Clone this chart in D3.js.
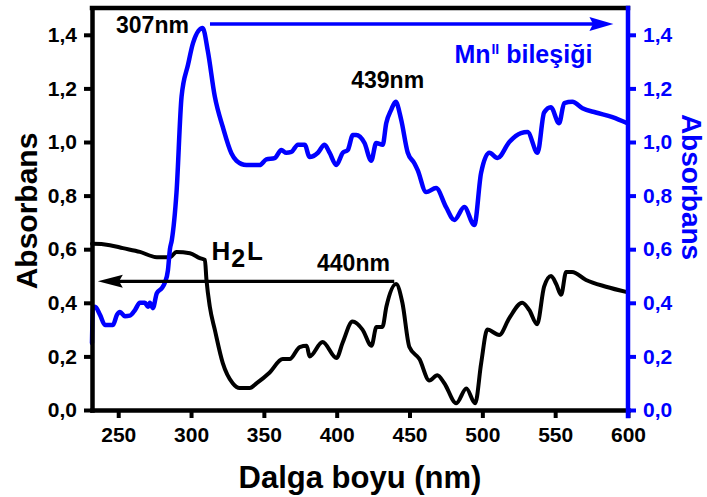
<!DOCTYPE html>
<html>
<head>
<meta charset="utf-8">
<script src="https://cdn.jsdelivr.net/npm/d3@7"></script>
<style>
  html, body { margin: 0; padding: 0; background: #fff; }
  svg { display: block; font-family: "Liberation Sans", Arial, sans-serif; font-weight: bold; }
</style>
</head>
<body>
<div id="chart"></div>
<script>
// --- data --------------------------------------------------------------
// H2L spectrum (black, left axis)
const ligandNm = [232, 232.7, 244.3, 253.2, 264.9, 276.5, 285.5, 290, 299.2, 306, 309.5, 310.6, 312.9, 316.3,
  321.8, 328.6, 333.4, 340.3, 345.1, 354, 362.9, 367.7, 374.6, 379.4, 381.4, 390.3, 399.9, 404, 410.9,
  417.7, 423.9, 427.3, 431.4, 434.1, 440.8, 445.1, 449.9, 456.8, 463.6, 469.1, 473.9, 482.1, 489, 495.1,
  499.2, 503.4, 511.6, 518.5, 527.4, 532.2, 537.6, 542.4, 547.2, 550.7, 554.1, 557.5, 561.6, 571.2, 584.9, 599.3];
const ligandAbs = [0.62, 0.62, 0.615, 0.604, 0.59, 0.57, 0.57, 0.59, 0.585, 0.567, 0.56, 0.485, 0.385, 0.30,
  0.175, 0.10, 0.082, 0.082, 0.10, 0.14, 0.19, 0.19, 0.235, 0.24, 0.20, 0.254, 0.194, 0.25, 0.33,
  0.30, 0.24, 0.31, 0.31, 0.385, 0.47, 0.40, 0.235, 0.19, 0.11, 0.13, 0.10, 0.025, 0.08, 0.025,
  0.175, 0.30, 0.28, 0.343, 0.40, 0.373, 0.32, 0.46, 0.50, 0.47, 0.43, 0.515, 0.515, 0.485, 0.46, 0.44];

// Mn(II) complex spectrum (blue, right axis)
const complexNm = [232, 232.6, 234.1, 237.5, 240.9, 246.4, 249.1, 251.2, 254.6, 258, 261.5, 264.9, 268.3,
  270.4, 271.7, 273.8, 276.5, 280, 282, 284.1, 285.5, 286.8, 290, 293.5, 298, 301.4, 308, 311.5, 316.3,
  321.8, 327.7, 331.2, 338, 347.1, 351.7, 357.4, 362, 365.4, 368.9, 373.4, 378, 381.4, 387.1, 391.7,
  395.1, 399.7, 404.2, 407.6, 411.1, 413.4, 419.1, 423.7, 427.1, 431.6, 434, 437.4, 440.5, 444.2, 448.8,
  453.4, 455.6, 461.4, 468.2, 475.1, 480.8, 487.6, 494.5, 499.1, 504.8, 510.4, 518.5, 526.5, 531, 537.9,
  542.4, 547, 552.7, 556.2, 561.8, 568.7, 577.9, 589.3, 599.6];
const complexAbs = [0.25, 0.38, 0.385, 0.355, 0.317, 0.317, 0.355, 0.366, 0.35, 0.352, 0.373, 0.40, 0.40,
  0.385, 0.40, 0.38, 0.436, 0.455, 0.475, 0.52, 0.60, 0.634, 0.81, 1.17, 1.29, 1.37, 1.425, 1.34, 1.17,
  1.056, 0.958, 0.93, 0.914, 0.914, 0.935, 0.94, 0.97, 0.96, 0.963, 0.99, 0.99, 0.944, 0.96, 0.99,
  0.96, 0.914, 0.96, 0.97, 1.026, 1.026, 0.996, 0.93, 0.996, 0.99, 1.07, 1.12, 1.15, 1.085, 0.96,
  0.92, 0.895, 0.813, 0.828, 0.757, 0.709, 0.757, 0.69, 0.884, 0.96, 0.94, 1.0, 1.033, 1.037, 0.96,
  1.11, 1.13, 1.07, 1.145, 1.15, 1.126, 1.11, 1.093, 1.07];

const xTicks = [250, 300, 350, 400, 450, 500, 550, 600];
const yTicks = [0, 0.2, 0.4, 0.6, 0.8, 1.0, 1.2, 1.4];

// --- layout --------------------------------------------------------------
const W = 707, H = 497;
const BLUE = "#0000ff";
const FONT_TICK = 21, FONT_TITLE = 30, FONT_NOTE = 23;

const svg = d3.select("#chart").append("svg").attr("width", W).attr("height", H);

const x = d3.scaleLinear().domain([232, 600]).range([92, 628]);
const yL = d3.scaleLinear().domain([0, 1.5]).range([410, 8]);
const yR = d3.scaleLinear().domain([0, 1.5]).range([410, 8]);

const comma = v => d3.format(".1f")(v).replace(".", ",");

// curves
const line = (ys) => d3.line().x(d => x(d[0])).y(d => ys(d[1])).curve(d3.curveMonotoneX);
const ligand = d3.zip(ligandNm, ligandAbs);
const complex = d3.zip(complexNm, complexAbs);

svg.append("path").datum(ligand).attr("d", line(yL))
  .attr("fill", "none").attr("stroke", "#000").attr("stroke-width", 4)
  .attr("stroke-linejoin", "round").attr("stroke-linecap", "round");
svg.append("path").datum(complex).attr("d", line(yR))
  .attr("fill", "none").attr("stroke", BLUE).attr("stroke-width", 4.5)
  .attr("stroke-linejoin", "round").attr("stroke-linecap", "round");

// frame top
svg.append("line").attr("x1", x(232)).attr("x2", x(600)).attr("y1", yL(1.5)).attr("y2", yL(1.5))
  .attr("stroke", "#000").attr("stroke-width", 4.5).attr("stroke-linecap", "square");

// axes
function styleAxis(g, color) {
  g.select(".domain").attr("stroke", color).attr("stroke-width", 4.5).attr("stroke-linecap", "square");
  g.selectAll(".tick line").attr("stroke", color).attr("stroke-width", 4);
  g.selectAll(".tick text").attr("fill", color)
    .attr("font-size", FONT_TICK).attr("font-family", "Liberation Sans, Arial, sans-serif")
    .attr("font-weight", "bold");
}

svg.append("g").attr("transform", `translate(0,${yL(0)})`)
  .call(d3.axisBottom(x).tickValues(xTicks).tickSize(8).tickSizeOuter(0).tickPadding(9))
  .call(g => styleAxis(g, "#000"));

svg.append("g").attr("transform", `translate(${x(232)},0)`)
  .call(d3.axisLeft(yL).tickValues(yTicks).tickFormat(comma).tickSize(8).tickSizeOuter(0).tickPadding(7))
  .call(g => styleAxis(g, "#000"));

svg.append("g").attr("transform", `translate(${x(600)},0)`)
  .call(d3.axisRight(yR).tickValues(yTicks).tickFormat(comma).tickSize(8).tickSizeOuter(0).tickPadding(7))
  .call(g => styleAxis(g, BLUE))
  .call(g => g.select(".domain").attr("d", `M0,${yR(1.5)}V${yR(0) + 6}`));

// axis titles
svg.append("text").attr("x", 360).attr("y", 488).attr("text-anchor", "middle")
  .attr("font-size", FONT_TITLE + 1).attr("fill", "#000").text("Dalga boyu (nm)");
svg.append("text").attr("transform", "translate(37,211) rotate(-90)").attr("text-anchor", "middle")
  .attr("font-size", FONT_TITLE).attr("fill", "#000").text("Absorbans");
svg.append("text").attr("transform", "translate(682,187) rotate(90)").attr("text-anchor", "middle")
  .attr("font-size", FONT_TITLE - 2).attr("fill", BLUE).text("Absorbans");

// arrows
function arrow(x1, y1, x2, color, headLen, headHalf, width) {
  const dir = Math.sign(x2 - x1);
  svg.append("line").attr("x1", x1).attr("y1", y1).attr("x2", x2 - dir * headLen * 0.8).attr("y2", y1)
    .attr("stroke", color).attr("stroke-width", width);
  svg.append("path")
    .attr("d", `M${x2},${y1}L${x2 - dir * headLen},${y1 - headHalf}L${x2 - dir * headLen * 0.85},${y1}L${x2 - dir * headLen},${y1 + headHalf}Z`)
    .attr("fill", color);
}
arrow(x(313), yR(1.44), x(590), BLUE, 24, 7, 3.5);
arrow(x(439.5), yL(0.48), x(236), "#000", 25, 6.5, 3.3);

// annotations
const note = (nm, v, s) =>
  svg.append("text").attr("x", x(nm)).attr("y", yL(v)).attr("font-size", FONT_NOTE).attr("fill", "#000").text(s);
note(248.5, 1.405, "307nm");
note(410, 1.2, "439nm");
note(386.5, 0.517, "440nm");

const mn = svg.append("text").attr("x", x(480.8)).attr("y", yR(1.295)).attr("fill", BLUE).attr("font-size", 25);
mn.append("tspan").text("Mn");
mn.append("tspan").attr("font-size", 14).attr("dy", -9).attr("dx", 1).text("II");
mn.append("tspan").attr("dy", 9).text(" bileşiği");

const h2l = svg.append("text").attr("x", x(314)).attr("y", yL(0.56)).attr("fill", "#000").attr("font-size", 26);
h2l.append("tspan").text("H");
h2l.append("tspan").attr("dy", 7).attr("dx", 1).attr("font-size", 25).text("2");
h2l.append("tspan").attr("dy", -7).attr("dx", 2).text("L");
</script>
</body>
</html>
